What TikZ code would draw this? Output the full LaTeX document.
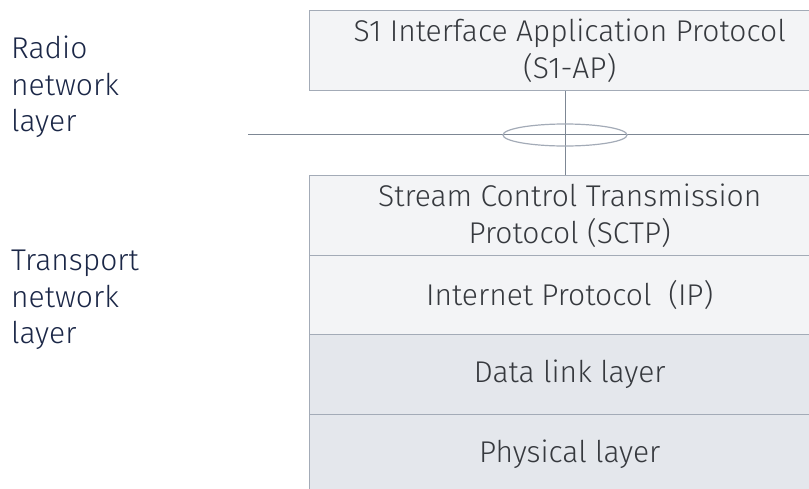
\documentclass[tikz,border=0pt]{standalone}
\usepackage{fontspec}
\usetikzlibrary{shapes.geometric}
\setmainfont{Fira Sans Light}
\definecolor{bordc}{HTML}{A3ABB7}
\definecolor{lightf}{HTML}{F3F4F6}
\definecolor{darkf}{HTML}{E4E7EC}
\definecolor{boxtxt}{HTML}{36393E}
\definecolor{labtxt}{HTML}{1B2747}
\definecolor{linec}{HTML}{7D8794}
\begin{document}
\begin{tikzpicture}[x=1pt,y=-1pt,
  layerbox/.style={draw=bordc, line width=1.4pt, anchor=north west, minimum width=520pt, inner sep=0pt, align=center, text=boxtxt, font=\fontsize{30}{37}\selectfont},
  sidelab/.style={anchor=north west, align=left, text=labtxt, inner sep=0pt, font=\fontsize{30}{36.5}\selectfont}]
\useasboundingbox (0,0) rectangle (809,488);
\clip (0,0) rectangle (809,488);
\node[layerbox, fill=lightf, minimum height=80pt] (s1ap) at (309,10) {S1 Interface Application Protocol\\(S1-AP)};
\node[layerbox, fill=lightf, minimum height=80pt] (sctp) at (309,175) {Stream Control Transmission\\Protocol (SCTP)};
\node[layerbox, fill=lightf, minimum height=79pt] (ip) at (309,255) {Internet Protocol~~(IP)};
\node[layerbox, fill=darkf, minimum height=80pt] (dll) at (309,334) {Data link layer};
\node[layerbox, fill=darkf, minimum height=80pt] (phy) at (309,414) {Physical layer};
\coordinate (hl) at (248,134);
\coordinate (hr) at (809,134);
\draw[linec, line width=1pt] (hl) -- (hr);
\draw[linec, line width=1pt] (s1ap.south -| 565,0) -- (sctp.north -| 565,0);
\node[draw=bordc, line width=1.2pt, ellipse, minimum width=124pt, minimum height=22pt, inner sep=0pt] (ell) at (565,135) {};
\node[sidelab] (rnl) at (11,36) {Radio\\network\\layer};
\node[sidelab] (tnl) at (11,250) {Transport\\network\\layer};
\end{tikzpicture}
\end{document}
